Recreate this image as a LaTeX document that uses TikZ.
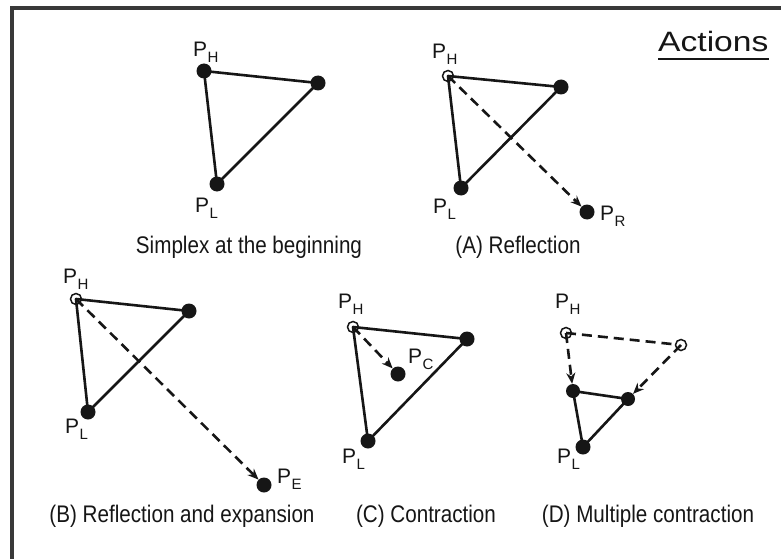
\documentclass[tikz,border=0pt]{standalone}
\usepackage{fontspec}
\setmainfont{Liberation Sans}
\newfontfamily\capfont[FakeStretch=0.86]{Liberation Sans}
\newfontfamily\actfont[FakeStretch=1.2]{Liberation Sans}
\usetikzlibrary{arrows.meta}
\definecolor{ink}{HTML}{161616}
\newcommand\plab[1]{\fontsize{21}{21}\selectfont P\kern0.3pt\raisebox{-6pt}{\fontsize{15}{15}\selectfont #1}}
\begin{document}
\begin{tikzpicture}[x=1pt,y=-1pt,
  dot/.style={circle,fill=ink,inner sep=0pt,minimum size=15pt},
  odot/.style={circle,draw=ink,line width=1.5pt,inner sep=0pt,minimum size=11pt},
  edge/.style={draw=ink,line width=2.6pt,line join=round},
  dedge/.style={draw=ink,line width=2.6pt,dash pattern=on 10pt off 6pt},
  darrow/.style={dedge,-{Stealth[length=11pt,width=9pt]}},
  lbl/.style={inner sep=0pt,anchor=base west,text=ink},
  captxt/.style={inner sep=0pt,anchor=base,text=ink,font=\capfont\fontsize{24}{24}\selectfont}]
\useasboundingbox (0,0) rectangle (781,559);
\fill[white] (0,0) rectangle (781,559);
\draw[line width=3.5pt,color=ink!85] (12,559) -- (12,8) -- (781,8);

% title
\node[inner sep=0pt,anchor=base west,text=ink,font=\actfont\fontsize{28}{28}\selectfont] (act) at (658,52) {Actions};
\draw[line width=1.8pt,ink] ([yshift=-7pt]act.base west) -- ([yshift=-7pt]act.base east);

% Panel 1: simplex at the beginning
\node[dot] (a1) at (204,71) {};
\node[dot] (b1) at (318,83) {};
\node[dot] (c1) at (217,184) {};
\draw[edge] (a1.center) -- (b1.center) -- (c1.center) -- cycle;
\node[lbl] (a1l) at (193,57) {\plab{H}};
\node[lbl] (c1l) at (195,212) {\plab{L}};
\node[captxt] (cap1) at (249,253) {Simplex at the beginning};

% Panel A: reflection
\node[odot] (a2) at (448,76) {};
\node[dot] (b2) at (561,87) {};
\node[dot] (c2) at (461,188) {};
\node[dot] (r2) at (587,212) {};
\draw[edge] (a2.center) -- (b2.center) -- (c2.center) -- cycle;
\draw[darrow] (a2.center) -- (r2);
\node[lbl] (a2l) at (432,59) {\plab{H}};
\node[lbl] (c2l) at (433,213) {\plab{L}};
\node[lbl] (r2l) at (600,220) {\plab{R}};
\node[captxt] (cap2) at (518,253) {(A) Reflection};

% Panel B: reflection and expansion
\node[odot] (a3) at (76,299) {};
\node[dot] (b3) at (189,311) {};
\node[dot] (c3) at (88,412) {};
\node[dot] (e3) at (264,485) {};
\draw[edge] (a3.center) -- (b3.center) -- (c3.center) -- cycle;
\draw[darrow] (a3.center) -- (e3);
\node[lbl] (a3l) at (63,283) {\plab{H}};
\node[lbl] (c3l) at (65,433) {\plab{L}};
\node[lbl] (e3l) at (277,483) {\plab{E}};
\node[captxt] (cap3) at (182,522) {(B) Reflection and expansion};

% Panel C: contraction
\node[odot] (a4) at (353,327) {};
\node[dot] (b4) at (467,339) {};
\node[dot] (c4) at (368,441) {};
\node[dot] (p4) at (398,374) {};
\draw[edge] (a4.center) -- (b4.center) -- (c4.center) -- cycle;
\draw[darrow] (a4.center) -- (p4);
\node[lbl] (a4l) at (338,308) {\plab{H}};
\node[lbl] (p4l) at (408,363) {\plab{C}};
\node[lbl] (c4l) at (342,463) {\plab{L}};
\node[captxt] (cap4) at (426,522) {(C) Contraction};

% Panel D: multiple contraction
\node[odot] (a5) at (566,333) {};
\node[odot] (b5) at (681,345) {};
\node[dot] (c5) at (583,447) {};
\node[dot,minimum size=14pt] (m1) at (573,391) {};
\node[dot,minimum size=14pt] (m2) at (628,399) {};
\draw[dedge] (a5.center) -- (b5);
\draw[darrow] (a5.center) -- (m1);
\draw[darrow] (b5.center) -- (m2);
\draw[edge] (m1.center) -- (m2.center) -- (c5.center) -- cycle;
\node[lbl] (a5l) at (555,308) {\plab{H}};
\node[lbl] (c5l) at (557,463) {\plab{L}};
\node[captxt] (cap5) at (648,522) {(D) Multiple contraction};
\end{tikzpicture}
\end{document}
